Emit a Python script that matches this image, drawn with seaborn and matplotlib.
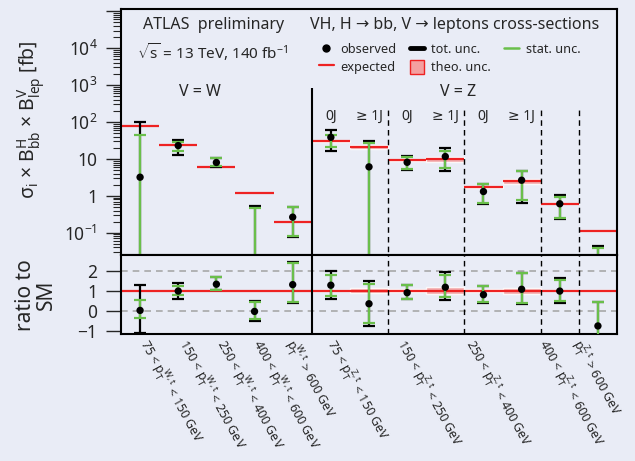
import matplotlib
matplotlib.use("Agg")
import matplotlib.pyplot as plt
import matplotlib.transforms as mtransforms
from matplotlib.lines import Line2D
from matplotlib.patches import Patch
import numpy as np
import pandas as pd
import seaborn as sns

# ---- data ----
w_labels = [
    "75 < $p_T^{W,t}$ < 150 GeV",
    "150 < $p_T^{W,t}$ < 250 GeV",
    "250 < $p_T^{W,t}$ < 400 GeV",
    "400 < $p_T^{W,t}$ < 600 GeV",
    "$p_T^{W,t}$ > 600 GeV",
]
z_labels = [
    "75 < $p_T^{Z,t}$ < 150 GeV",
    "150 < $p_T^{Z,t}$ < 250 GeV",
    "250 < $p_T^{Z,t}$ < 400 GeV",
    "400 < $p_T^{Z,t}$ < 600 GeV",
    "$p_T^{Z,t}$ > 600 GeV",
]
label_pos = [0.83, 1.85, 2.85, 3.79, 4.66, 5.72, 7.56, 9.37, 11.28, 12.18]
jet_labels = ["0J", "≥ 1J", "0J", "≥ 1J", "0J", "≥ 1J"]

# cross-sections [fb], 5 W bins then 8 Z bins
expected = [80, 24.5, 6.0, 1.23, 0.20, 30, 21, 9.2, 9.8, 1.72, 2.45, 0.62, 0.111]
observed = [3.2, 23, 8.0, -0.04, 0.265, 38.5, 6.1, 8.1, 11.6, 1.31, 2.65, 0.61, -0.08]
tot_hi = [100, 33, 10.5, 0.54, 0.50, 60, 31.5, 11.8, 19.4, 2.15, 4.8, 1.05, 0.044]
tot_lo = [-70, 13, 6.2, -0.6, 0.078, 16.5, -15, 5.1, 4.6, 0.62, 0.65, 0.23, -0.14]
stat_hi = [45, 29.5, 10.3, 0.46, 0.50, 45.6, 27, 11.6, 16.5, 2.1, 4.7, 0.94, 0.039]
stat_lo = [-25, 16.5, 6.3, -0.5, 0.08, 21, -12, 5.2, 5.6, 0.63, 0.77, 0.25, -0.13]
theo_rel = [0, 0, 0, 0, 0, 0.04, 0.13, 0.07, 0.17, 0.07, 0.15, 0.02, 0.02]

# ratio to SM
r_obs = [0.02, 0.98, 1.32, -0.03, 1.30, 1.27, 0.35, 0.90, 1.17, 0.80, 1.07, 0.98, -0.75]
r_tot_hi = [1.27, 1.37, 1.70, 0.47, 2.40, 1.97, 1.50, 1.29, 1.93, 1.25, 1.90, 1.63, 0.45]
r_tot_lo = [-1.10, 0.60, 1.03, -0.50, 0.41, 0.60, -0.75, 0.58, 0.52, 0.41, 0.35, 0.41, -1.6]
r_stat_hi = [0.52, 1.23, 1.68, 0.45, 2.38, 1.80, 1.35, 1.27, 1.77, 1.23, 1.88, 1.55, 0.42]
r_stat_lo = [-0.37, 0.80, 1.05, -0.42, 0.43, 0.75, -0.62, 0.60, 0.67, 0.43, 0.38, 0.48, -1.5]

bg = "#e9ecf6"
red = "#ee2222"
green = "#6abf4b"
pink = "#f4a0a0"

sns.set_theme(
    style="ticks",
    rc={
        "figure.facecolor": bg,
        "axes.facecolor": bg,
        "axes.edgecolor": "black",
        "axes.linewidth": 1.5,
        "mathtext.fontset": "custom",
        "mathtext.rm": "Noto Sans",
        "mathtext.it": "Noto Sans",
        "mathtext.default": "regular",
        "xtick.major.size": 0,
        "ytick.major.size": 11,
        "ytick.minor.size": 5.5,
        "ytick.major.width": 1.0,
        "ytick.minor.width": 0.8,
        "ytick.major.pad": 6,
        "ytick.labelsize": 12.5,
    },
)
plt.rcParams["font.family"] = ["Noto Sans", "DejaVu Sans"]

df = pd.DataFrame({
    "bin": np.arange(13) + 0.5,
    "expected": expected, "observed": observed,
    "tot_hi": tot_hi, "tot_lo": tot_lo, "stat_hi": stat_hi, "stat_lo": stat_lo,
    "theo": theo_rel,
    "r_obs": r_obs, "r_tot_hi": r_tot_hi, "r_tot_lo": r_tot_lo,
    "r_stat_hi": r_stat_hi, "r_stat_lo": r_stat_lo,
})

fig = plt.figure(figsize=(6.35, 4.61), dpi=100)
ax = fig.add_axes([121 / 635, 1 - 255 / 461, 496 / 635, 246 / 461])
axr = fig.add_axes([121 / 635, 1 - 334 / 461, 496 / 635, 79 / 461], sharex=ax)

x = df["bin"].to_numpy()
ymin_log = 1e-6

# ---- upper panel ----
ax.set_yscale("log")
band = df[df["theo"] > 0]
ax.bar(band["bin"], 2 * band["expected"] * band["theo"],
       bottom=band["expected"] * (1 - band["theo"]), width=1, color=pink, alpha=0.85, zorder=1)
ax.hlines(df["expected"], x - 0.5, x + 0.5, color=red, lw=1.6, zorder=2)


def bars(a, lo, hi, color, z, clip):
    lo = np.asarray(lo, float)
    if clip:
        lo = np.clip(lo, ymin_log, None)
    hi = np.asarray(hi, float)
    a.errorbar(x, hi, yerr=[hi - lo, np.zeros_like(hi)], fmt="none", ecolor=color,
               elinewidth=1.6, capsize=4.6, capthick=1.6, zorder=z)


bars(ax, df["tot_lo"], df["tot_hi"], "black", 3, True)
bars(ax, df["stat_lo"], df["stat_hi"], green, 4, True)
pos = df[df["observed"] > 0]
sns.scatterplot(data=pos, x="bin", y="observed", ax=ax, color="black", s=28,
                edgecolor="none", zorder=5, legend=False)

ax.vlines(5, ymin_log, 840, color="black", lw=1.5, zorder=2)
ax.vlines([7, 9, 11, 12], ymin_log, 260, color="black", lw=1.0,
          linestyles=(0, (4, 3)), zorder=2)

ax.set_xlim(0, 13)
ax.set_ylim(0.025, 1.15e5)
ax.set_yticks([0.1, 1, 10, 100, 1e3, 1e4, 1e5])
ax.set_yticklabels(["$10^{-1}$", "1", "10", "$10^2$", "$10^3$", "$10^4$", ""])
ax.tick_params(axis="x", which="both", bottom=False, labelbottom=False)
ax.set_xlabel("")
ax.set_ylabel("")

T = ax.transAxes
ax.text(0.044, 0.935, "ATLAS  preliminary", transform=T, fontsize=11.5, va="center")
ax.text(0.032, 0.825, r"$\sqrt{s}$ = 13 TeV, 140 fb$^{-1}$", transform=T,
        fontsize=11, va="center")
ax.text(0.159, 0.663, "V = W", transform=T, fontsize=11.5, ha="center", va="center")
ax.text(0.381, 0.935, "VH, H → bb, V → leptons cross-sections", transform=T,
        fontsize=11.5, va="center")
ax.text(0.679, 0.663, "V = Z", transform=T, fontsize=11.5, ha="center", va="center")
blend = mtransforms.blended_transform_factory(ax.transData, ax.transAxes)
for xp, lab in zip([5.5, 6.5, 7.5, 8.5, 9.5, 10.5], jet_labels):
    ax.text(xp, 0.565, lab, transform=blend, fontsize=10, ha="center", va="center")

handles = [
    Line2D([], [], color="black", marker="o", ms=5, ls="none"),
    Line2D([], [], color=red, lw=1.6),
    Line2D([], [], color="black", lw=3.5),
    Patch(facecolor=pink, edgecolor=red, lw=1.0),
    Line2D([], [], color=green, lw=1.8),
]
labels = ["observed", "expected", "tot. unc.", "theo. unc.", "stat. unc."]
ax.legend(handles, labels, ncol=3, loc="upper left", frameon=False, fontsize=9.2,
          bbox_to_anchor=(319 / 635, 1 - 42 / 461), bbox_transform=fig.transFigure,
          borderpad=0, borderaxespad=0, handlelength=1.15, handleheight=1.35,
          handletextpad=0.55, columnspacing=1.0, labelspacing=0.25)

# ---- ratio panel ----
rband = df[df["theo"] > 0]
axr.bar(rband["bin"], 2 * rband["theo"], bottom=1 - rband["theo"], width=1,
        color=pink, alpha=0.85, zorder=1)
axr.axhline(1, color=red, lw=1.6, zorder=2)
axr.axhline(2, color="#a8a8a8", lw=1.2, ls=(0, (4, 3)), zorder=1)
axr.axhline(0, color="#a8a8a8", lw=1.2, ls=(0, (4, 3)), zorder=1)

bars(axr, df["r_tot_lo"], df["r_tot_hi"], "black", 3, False)
bars(axr, df["r_stat_lo"], df["r_stat_hi"], green, 4, False)
sns.scatterplot(data=df, x="bin", y="r_obs", ax=axr, color="black", s=28,
                edgecolor="none", zorder=5, legend=False)
axr.axvline(5, color="black", lw=1.5, zorder=2)
for xv in [7, 9, 11, 12]:
    axr.axvline(xv, color="black", lw=1.0, ls=(0, (4, 3)), zorder=2)

axr.set_ylim(-1.15, 2.77)
axr.set_yticks([-1, 0, 1, 2])
axr.set_yticklabels(["−1", "0", "1", "2"])
axr.set_xlabel("")
axr.set_ylabel("")
axr.set_xticks(label_pos)
axr.set_xticklabels(w_labels + z_labels, rotation=-61, ha="left", va="top",
                    rotation_mode="anchor", fontsize=9)
axr.tick_params(axis="x", length=0, pad=1)

fig.text(31 / 635, 1 - 120 / 461, r"$\sigma_i$ × $B^H_{bb}$ × $B^V_{lep}$ [fb]",
         rotation=90, ha="center", va="center", fontsize=14)
fig.text(36 / 635, 1 - 295 / 461, "ratio to\nSM", rotation=90, ha="center",
         va="center", fontsize=15, multialignment="center", linespacing=1.0)

fig.savefig("out.png", dpi=100, facecolor=bg)
